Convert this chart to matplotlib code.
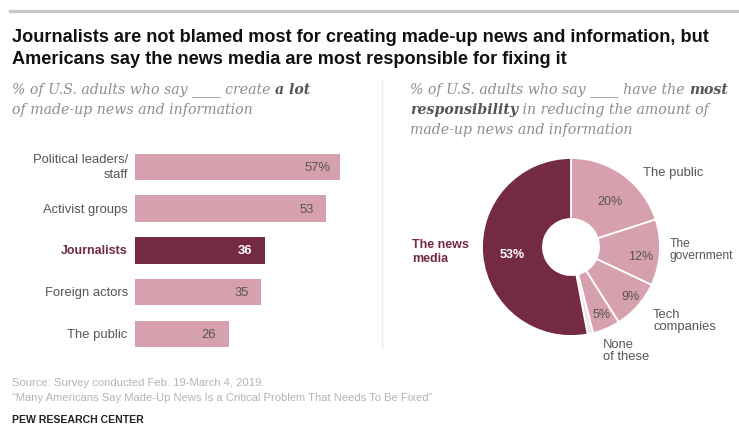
import matplotlib
matplotlib.use("Agg")
import matplotlib.pyplot as plt
from matplotlib.lines import Line2D

W, H = 739, 435
DARK = "#742a40"
LIGHT = "#d6a0ae"
PALE = "#f1e2e6"
TXT = "#555555"

plt.rcParams["font.family"] = ["Liberation Sans", "DejaVu Sans"]

# Left panel: who creates made-up news
bar_labels = ["Political leaders/\nstaff", "Activist groups", "Journalists",
              "Foreign actors", "The public"]
bar_values = [57, 53, 36, 35, 26]
bar_value_text = ["57%", "53", "36", "35", "26"]

# Right panel: who is most responsible for reducing it
pie_labels = ["The public", "The government", "Tech companies",
              "None of these", "No answer", "The news media"]
pie_values = [20, 12, 9, 5, 1, 53]
pie_value_text = ["20%", "12%", "9%", "5%", "", "53%"]

fig = plt.figure(figsize=(W / 100, H / 100), dpi=100)


def px(x, y):
    return x / W, 1 - y / H


def pt(p):
    return p * 72 / 100


def ftext(x, y, s, **kw):
    return fig.text(*px(x, y), s, **kw)


def runs(x, y, parts, size, family, color_map):
    """Draw a line made of consecutive text runs with different weights."""
    r = fig.canvas.get_renderer()
    cx = x
    for s, bold in parts:
        t = fig.text(*px(cx, y), s, fontsize=pt(size), family=family,
                     style="italic", weight="bold" if bold else "normal",
                     color=color_map[bold], va="center", ha="left")
        cx += t.get_window_extent(renderer=r).width


# top rule
fig.add_artist(Line2D([10 / W, 1], [1 - 12 / H] * 2, color="#c8c8c8", lw=2.4))

tfam = ["Liberation Sans", "DejaVu Sans"]
ftext(12, 38, "Journalists are not blamed most for creating made-up news and information, but",
      fontsize=pt(18.1), weight="bold", family=tfam, color="#111111", va="center")
ftext(12, 60, "Americans say the news media are most responsible for fixing it",
      fontsize=pt(18.1), weight="bold", family=tfam, color="#111111", va="center")

sfam = ["DejaVu Serif"]
cmap = {False: "#8e8e8e", True: "#555555"}
ss = 14.1
runs(12, 90, [("% of U.S. adults who say ____ create ", False), ("a lot", True)], ss, sfam, cmap)
runs(12, 110, [("of made-up news and information", False)], ss, sfam, cmap)
runs(410, 90, [("% of U.S. adults who say ____ have the ", False), ("most", True)], ss, sfam, cmap)
runs(410, 110, [("responsibility", True), (" in reducing the amount of", False)], ss, sfam, cmap)
runs(410, 130, [("made-up news and information", False)], ss, sfam, cmap)

# divider
fig.add_artist(Line2D([382 / W] * 2, [1 - 80 / H, 1 - 350 / H], color="#ececec", lw=1))

# bar chart: value 0 at x=135, 3.6 px per point
x0, ppu = 135, 3.6
xmax = 60
top, step = 147, 41.75
axb = fig.add_axes([x0 / W, 1 - (top + 5 * step) / H, xmax * ppu / W, 5 * step / H])
ypos = list(range(len(bar_values)))
colors = [DARK if l == "Journalists" else LIGHT for l in bar_labels]
axb.barh(ypos, bar_values, height=0.63, color=colors)
axb.set_xlim(0, xmax)
axb.set_ylim(len(bar_values) - 0.5, -0.5)
axb.axis("off")
for i, (lab, v, vt) in enumerate(zip(bar_labels, bar_values, bar_value_text)):
    isj = lab == "Journalists"
    axb.text(-2.0, i, lab, ha="right", va="center", fontsize=pt(12.5 if isj else 13),
             color=DARK if isj else TXT, weight="bold" if isj else "normal",
             linespacing=1.35)
    gap = 2.8 if vt.endswith("%") else 3.4
    axb.text(v - gap, i, vt, ha="right", va="center", fontsize=pt(13),
             color="white" if isj else TXT, weight="bold" if isj else "normal")

# donut chart
cx, cy, R = 571, 248, 89
half = 100
axp = fig.add_axes([(cx - half) / W, 1 - (cy + half) / H, 2 * half / W, 2 * half / H])
pcolors = [LIGHT, LIGHT, LIGHT, LIGHT, PALE, DARK]
axp.pie(pie_values, colors=pcolors, startangle=90, counterclock=False, radius=1,
        wedgeprops=dict(width=0.685, edgecolor="white", linewidth=1.3))
axp.set_xlim(-half / R, half / R)
axp.set_ylim(-half / R, half / R)
axp.set_aspect("equal")
axp.axis("off")

# value labels on the donut
val_pos = [(610, 202), (641, 257), (631, 297), (602, 315), None, (512, 255)]
for vt, pos, lab in zip(pie_value_text, val_pos, pie_labels):
    if pos is None:
        continue
    dark = lab == "The news media"
    ftext(*pos, vt, fontsize=pt(12.5), color="white" if dark else TXT,
          weight="bold" if dark else "normal", ha="center", va="center")

# category labels around the donut
ftext(643, 173, "The public", fontsize=pt(13), color=TXT, va="center")
ftext(670, 250, "The\ngovernment", fontsize=pt(12), color=TXT, va="center", linespacing=1.0)
ftext(653, 321, "Tech\ncompanies", fontsize=pt(13), color=TXT, va="center", linespacing=1.1)
ftext(603, 351, "None\nof these", fontsize=pt(13), color=TXT, va="center", linespacing=1.1)
ftext(412, 252, "The news\nmedia", fontsize=pt(12.5), color=DARK, weight="bold", va="center",
      linespacing=1.3)

# footer
ftext(12, 383, "Source: Survey conducted Feb. 19-March 4, 2019.", fontsize=pt(11.3),
      color="#b4b4b4", va="center")
ftext(12, 398, "\u201cMany Americans Say Made-Up News Is a Critical Problem That Needs To Be Fixed\u201d",
      fontsize=pt(11.3), color="#b4b4b4", va="center")
ftext(12, 420, "PEW RESEARCH CENTER", fontsize=pt(10.5), weight="bold", family=tfam,
      color="#222222", va="center")

fig.savefig("out.png", dpi=100, facecolor="white")
